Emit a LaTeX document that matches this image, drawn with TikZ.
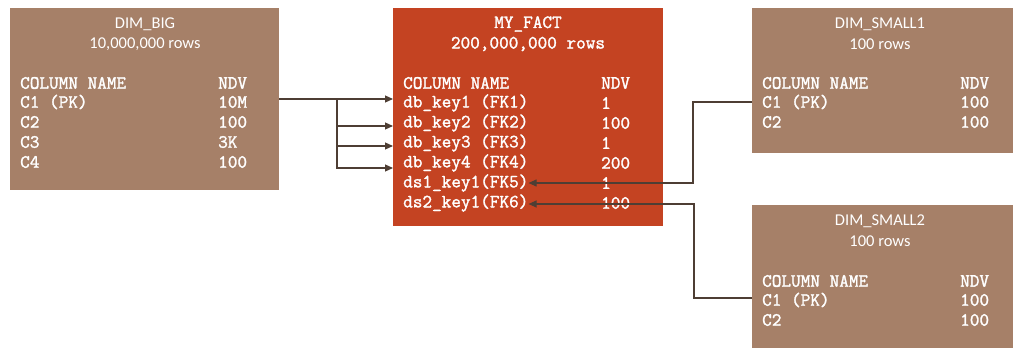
\documentclass[tikz,border=0pt]{standalone}
\usepackage{fontspec}
\setmainfont{Carlito}
\newfontfamily\lmmonobold{Latin Modern Mono}[FakeBold=1.6]
\usetikzlibrary{arrows.meta}
\definecolor{dimbrown}{HTML}{A68068}
\definecolor{factred}{HTML}{C44322}
\definecolor{linebrown}{HTML}{4E3E34}
\definecolor{linegrey}{HTML}{7A6A62}
\newcommand{\monofnt}{\lmmonobold\fontsize{18.7}{20}\selectfont}
\tikzset{
  tbl/.style={inner sep=0pt, outer sep=0pt, anchor=north west},
  ttl/.style={text=white, font=\fontsize{16.5}{18}\selectfont, anchor=center, inner sep=0pt},
  mtl/.style={text=white, font=\monofnt, anchor=center, inner sep=0pt},
  row/.style={text=white, font=\monofnt, anchor=west, inner sep=0pt},
  tip/.style={-{Triangle[length=8pt,width=7pt]}, draw=linegrey, line width=1.1pt, linebrown},
}
\begin{document}
\begin{tikzpicture}[x=1pt,y=-1pt]
\useasboundingbox (0,0) rectangle (1013,348);
% boxes
\node[tbl, fill=dimbrown, minimum width=269pt, minimum height=182pt] (big) at (10,8) {};
\node[tbl, fill=factred, minimum width=270pt, minimum height=218pt] (fact) at (393,8) {};
\node[tbl, fill=dimbrown, minimum width=262pt, minimum height=145pt] (s1) at (752,8) {};
\node[tbl, fill=dimbrown, minimum width=262pt, minimum height=144pt] (s2) at (752,205) {};
% DIM_BIG
\node[ttl] (bigt) at (145,24) {DIM\_BIG};
\node[ttl] (bigr) at (145,44) {10,000,000 rows};
\node[row] (bigh) at (20,83) {COLUMN NAME};
\node[row] (bighn) at (218,83) {NDV};
\node[row] (bigc1) at (20,102) {C1 (PK)};
\node[row] (bigc1n) at (218,102) {10M};
\node[row] (bigc2) at (20,122) {C2};
\node[row] (bigc2n) at (218,122) {100};
\node[row] (bigc3) at (20,142) {C3};
\node[row] (bigc3n) at (218,142) {3K};
\node[row] (bigc4) at (20,162) {C4};
\node[row] (bigc4n) at (218,162) {100};
% MY_FACT
\node[mtl] (factt) at (528,24) {MY\_FACT};
\node[mtl] (factr) at (528,44) {200,000,000 rows};
\node[row] (facth) at (403,83) {COLUMN NAME};
\node[row] (facthn) at (601,83) {NDV};
\node[row] (fk1) at (403,103) {db\_key1 (FK1)};
\node[row] (fk1n) at (601,103) {1};
\node[row] (fk2) at (403,123) {db\_key2 (FK2)};
\node[row] (fk2n) at (601,123) {100};
\node[row] (fk3) at (403,143) {db\_key3 (FK3)};
\node[row] (fk3n) at (601,143) {1};
\node[row] (fk4) at (403,163) {db\_key4 (FK4)};
\node[row] (fk4n) at (601,163) {200};
\node[row] (fk5) at (403,183) {ds1\_key1(FK5)};
\node[row] (fk5n) at (601,183) {1};
\node[row] (fk6) at (403,203) {ds2\_key1(FK6)};
\node[row] (fk6n) at (601,203) {100};
% DIM_SMALL1
\node[ttl] (s1t) at (880,24) {DIM\_SMALL1};
\node[ttl] (s1r) at (880,44) {100 rows};
\node[row] (s1h) at (762,83) {COLUMN NAME};
\node[row] (s1hn) at (960,83) {NDV};
\node[row] (s1c1) at (762,102) {C1 (PK)};
\node[row] (s1c1n) at (960,102) {100};
\node[row] (s1c2) at (762,122) {C2};
\node[row] (s1c2n) at (960,122) {100};
% DIM_SMALL2
\node[ttl] (s2t) at (880,221) {DIM\_SMALL2};
\node[ttl] (s2r) at (880,241) {100 rows};
\node[row] (s2h) at (762,281) {COLUMN NAME};
\node[row] (s2hn) at (960,281) {NDV};
\node[row] (s2c1) at (762,300) {C1 (PK)};
\node[row] (s2c1n) at (960,300) {100};
\node[row] (s2c2) at (762,320) {C2};
\node[row] (s2c2n) at (960,320) {100};
% connectors from DIM_BIG
\coordinate (bj) at (337,99);
\draw[draw=linebrown, line width=1.6pt] (big.east |- bj) -- (bj);
\draw[draw=linebrown, line width=1.3pt] (bj) -- (337,168.5);
\draw[tip] (bj) -- (fact.west |- bj);
\draw[tip] (337,126) -- (fact.west |- 0,126);
\draw[tip] (337,146) -- (fact.west |- 0,146);
\draw[tip] (337,168) -- (fact.west |- 0,168);
% connectors from small dims
\draw[tip] (s1.west |- s1c1) -| (693,183) -- (fk5.east |- 0,183);
\draw[tip] (s2.west |- 0,298) -| (694,204) -- (fk6.east |- 0,204);
\end{tikzpicture}
\end{document}
